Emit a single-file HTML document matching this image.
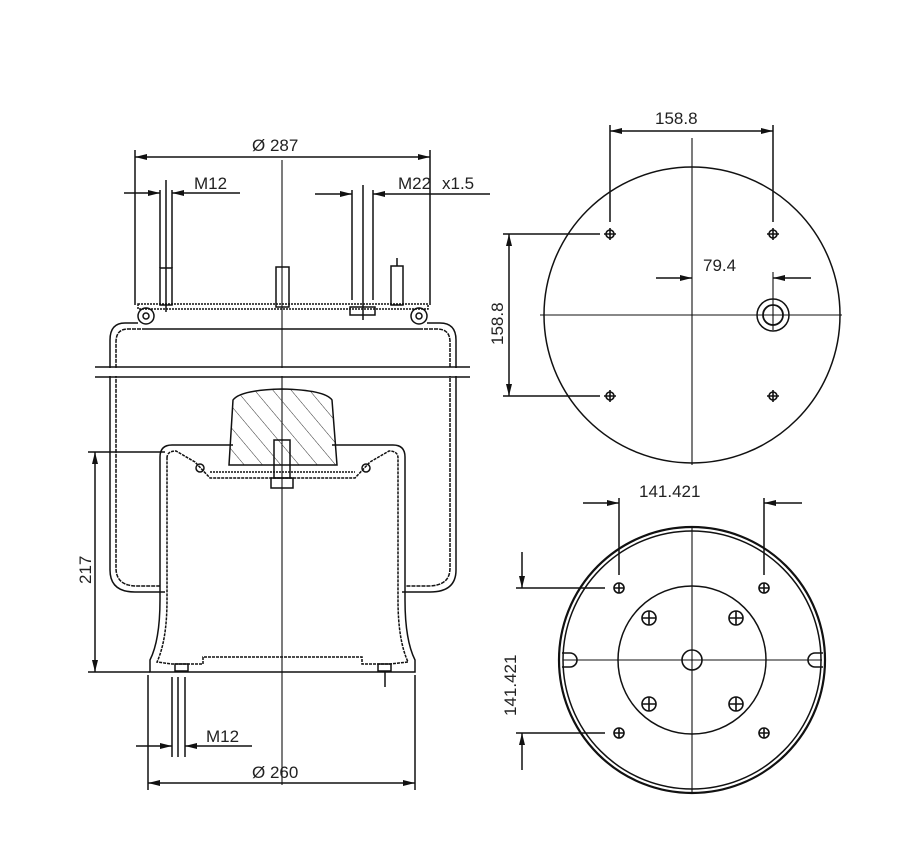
<!DOCTYPE html>
<html><head><meta charset="utf-8"><style>
html,body{margin:0;padding:0;background:#fff}
svg{display:block}
text{font-family:"Liberation Sans",sans-serif;font-size:17px;fill:#222}
</style></head><body>
<svg width="921" height="860" viewBox="0 0 921 860" xmlns="http://www.w3.org/2000/svg">
<defs>
<marker id="a" viewBox="0 0 12 6" refX="12" refY="3" markerWidth="12" markerHeight="6" orient="auto-start-reverse" markerUnits="userSpaceOnUse"><path d="M0,0 L12,3 L0,6 z" fill="#111"/></marker>
<pattern id="h" width="14" height="14" patternUnits="userSpaceOnUse" patternTransform="rotate(-40)"><line x1="0" y1="0" x2="0" y2="14" stroke="#333" stroke-width="1"/></pattern>
</defs>
<g fill="none" stroke="#111" stroke-width="1.5">
<!-- dimension Ø287 -->
<line x1="135" y1="150" x2="135" y2="305"/><line x1="430" y1="150" x2="430" y2="305"/>
<line x1="135" y1="157" x2="430" y2="157" marker-start="url(#a)" marker-end="url(#a)"/>
<line x1="282" y1="160" x2="282" y2="785" stroke-width="1.1"/>
<!-- M12 top -->
<line x1="124" y1="193" x2="160" y2="193" marker-end="url(#a)"/>
<line x1="240" y1="193" x2="172" y2="193" marker-end="url(#a)"/>
<line x1="160" y1="190" x2="160" y2="268"/><line x1="166" y1="180" x2="166" y2="312"/><line x1="172" y1="190" x2="172" y2="268"/>
<!-- M22 -->
<line x1="315" y1="194" x2="352" y2="194" marker-end="url(#a)"/>
<line x1="490" y1="194" x2="373" y2="194" marker-end="url(#a)"/>
<line x1="352" y1="190" x2="352" y2="300"/><line x1="363" y1="185" x2="363" y2="320"/><line x1="373" y1="190" x2="373" y2="300"/>
<!-- studs -->
<rect x="160" y="268" width="12" height="37"/><rect x="276" y="267" width="13" height="40"/><rect x="391" y="266" width="12" height="39"/>
<line x1="397" y1="258" x2="397" y2="266"/>
<!-- top plate -->
<rect x="138" y="304" width="290" height="5" stroke-dasharray="2 1"/>
<rect x="350" y="307" width="25" height="8"/>
<circle cx="146" cy="316" r="8"/><circle cx="146" cy="316" r="3"/>
<circle cx="419" cy="316" r="8"/><circle cx="419" cy="316" r="3"/>
<!-- outer bellows -->
<path d="M138,323 L125,323 Q110,323 110,340 L110,570 Q110,592 135,592 L165,592"/>
<path d="M146,329 L128,329 Q116,329 116,342 L116,568 Q116,586 137,586 L160,586" stroke-dasharray="4 1"/>
<path d="M427,323 L440,323 Q456,323 456,340 L456,570 Q456,592 430,592 L402,592"/>
<path d="M419,329 L437,329 Q450,329 450,342 L450,568 Q450,586 428,586 L405,586" stroke-dasharray="4 1"/>
<line x1="146" y1="329" x2="419" y2="329"/>
<rect x="101" y="368" width="370" height="8" fill="#fff" stroke="none"/>
<line x1="95" y1="367" x2="470" y2="367"/><line x1="95" y1="377" x2="470" y2="377"/>
<!-- hatched block -->
<path d="M233,400 Q240,390 282,389 Q325,390 332,400 L337,465 L229,465 Z" fill="url(#h)"/>
<!-- piston -->
<path d="M233,445 L172,445 Q160,445 160,457 L160,600 Q160,640 150,660 L150,672 L415,672 L415,660 Q405,640 405,600 L405,457 Q405,445 393,445 L332,445"/>
<path d="M167,458 Q167,451 176,451 L195,462 L210,478 L355,478 L370,462 L389,451 Q398,451 398,458 L398,600 Q398,640 408,662 L390,664 L362,664 L362,657 L203,657 L203,664 L172,664 L157,662 Q167,640 167,600 Z" stroke-dasharray="3 1"/>
<line x1="210" y1="472" x2="355" y2="472" stroke-dasharray="2 1"/>
<rect x="274" y="440" width="16" height="38"/><rect x="271" y="478" width="22" height="10"/>
<circle cx="200" cy="468" r="4"/><circle cx="366" cy="468" r="4"/>
<rect x="175" y="664" width="13" height="7"/><rect x="378" y="664" width="13" height="7"/>
<line x1="385" y1="671" x2="385" y2="687"/>
<!-- 217 -->
<line x1="88" y1="452" x2="165" y2="452"/><line x1="88" y1="672" x2="150" y2="672"/>
<line x1="95" y1="452" x2="95" y2="672" marker-start="url(#a)" marker-end="url(#a)"/>
<!-- Ø260 -->
<line x1="148" y1="675" x2="148" y2="790"/><line x1="415" y1="675" x2="415" y2="790"/>
<line x1="148" y1="783" x2="415" y2="783" marker-start="url(#a)" marker-end="url(#a)"/>
<!-- M12 bottom -->
<line x1="172" y1="677" x2="172" y2="757"/><line x1="178" y1="677" x2="178" y2="757"/><line x1="185" y1="677" x2="185" y2="757"/>
<line x1="136" y1="746" x2="172" y2="746" marker-end="url(#a)"/>
<line x1="252" y1="746" x2="185" y2="746" marker-end="url(#a)"/>

<!-- TOP CIRCLE -->
<circle cx="692" cy="315" r="148"/>
<line x1="540" y1="315" x2="842" y2="315" stroke-width="1.1"/>
<line x1="692" y1="138" x2="692" y2="465" stroke-width="1.1"/>
<line x1="610" y1="125" x2="610" y2="222"/><line x1="773" y1="125" x2="773" y2="222"/>
<line x1="610" y1="131" x2="773" y2="131" marker-start="url(#a)" marker-end="url(#a)"/>
<line x1="503" y1="234" x2="600" y2="234"/><line x1="503" y1="396" x2="600" y2="396"/>
<line x1="509" y1="234" x2="509" y2="396" marker-start="url(#a)" marker-end="url(#a)"/>
<line x1="656" y1="278" x2="692" y2="278" marker-end="url(#a)"/>
<line x1="811" y1="278" x2="773" y2="278" marker-end="url(#a)"/>
<line x1="773" y1="272" x2="773" y2="330" stroke-width="1.1"/>
<circle cx="773" cy="315" r="16"/><circle cx="773" cy="315" r="10" stroke-width="1.8"/>
<g stroke-width="1.6">
<circle cx="610" cy="234" r="4"/><circle cx="773" cy="234" r="4"/><circle cx="610" cy="396" r="4"/><circle cx="773" cy="396" r="4"/>
<path d="M604,234h12M610,228v12M767,234h12M773,228v12M604,396h12M610,390v12M767,396h12M773,390v12"/>
</g>

<!-- BOTTOM CIRCLE -->
<circle cx="692" cy="660" r="133" stroke-width="2.2"/>
<circle cx="692" cy="660" r="129"/>
<circle cx="692" cy="660" r="74"/>
<line x1="563" y1="660" x2="822" y2="660" stroke-width="1.1"/>
<line x1="692" y1="527" x2="692" y2="793" stroke-width="1.1"/>
<line x1="619" y1="498" x2="619" y2="575"/><line x1="764" y1="498" x2="764" y2="575"/>
<line x1="583" y1="503" x2="619" y2="503" marker-end="url(#a)"/>
<line x1="802" y1="503" x2="764" y2="503" marker-end="url(#a)"/>
<line x1="516" y1="588" x2="605" y2="588"/><line x1="516" y1="733" x2="605" y2="733"/>
<line x1="522" y1="552" x2="522" y2="588" marker-end="url(#a)"/>
<line x1="522" y1="770" x2="522" y2="733" marker-end="url(#a)"/>
<circle cx="692" cy="660" r="10" stroke-width="1.6"/>
<g stroke-width="1.6">
<circle cx="619" cy="588" r="5"/><circle cx="764" cy="588" r="5"/><circle cx="619" cy="733" r="5"/><circle cx="764" cy="733" r="5"/>
<circle cx="649" cy="618" r="7"/><circle cx="736" cy="618" r="7"/><circle cx="649" cy="704" r="7"/><circle cx="736" cy="704" r="7"/>
<path d="M614,588h10M619,583v10M759,588h10M764,583v10M614,733h10M619,728v10M759,733h10M764,728v10"/>
<path d="M642,618h14M649,611v14M729,618h14M736,611v14M642,704h14M649,697v14M729,704h14M736,697v14"/>
<path d="M562,653 h8 a7,7 0 0 1 0,14 h-8 M823,653 h-8 a7,7 0 0 0 0,14 h8"/>
</g>
</g>
<text x="252" y="151">Ø 287</text>
<text x="194" y="189">M12</text>
<text x="398" y="189">M22</text><text x="442" y="189">x1.5</text>
<text x="252" y="778">Ø 260</text>
<text x="206" y="742">M12</text>
<text transform="translate(91,584) rotate(-90)">217</text>
<text x="655" y="124">158.8</text>
<text x="703" y="271">79.4</text>
<text transform="translate(503,345) rotate(-90)">158.8</text>
<text x="639" y="497">141.421</text>
<text transform="translate(516,716) rotate(-90)">141.421</text>
</svg>
</body></html>
